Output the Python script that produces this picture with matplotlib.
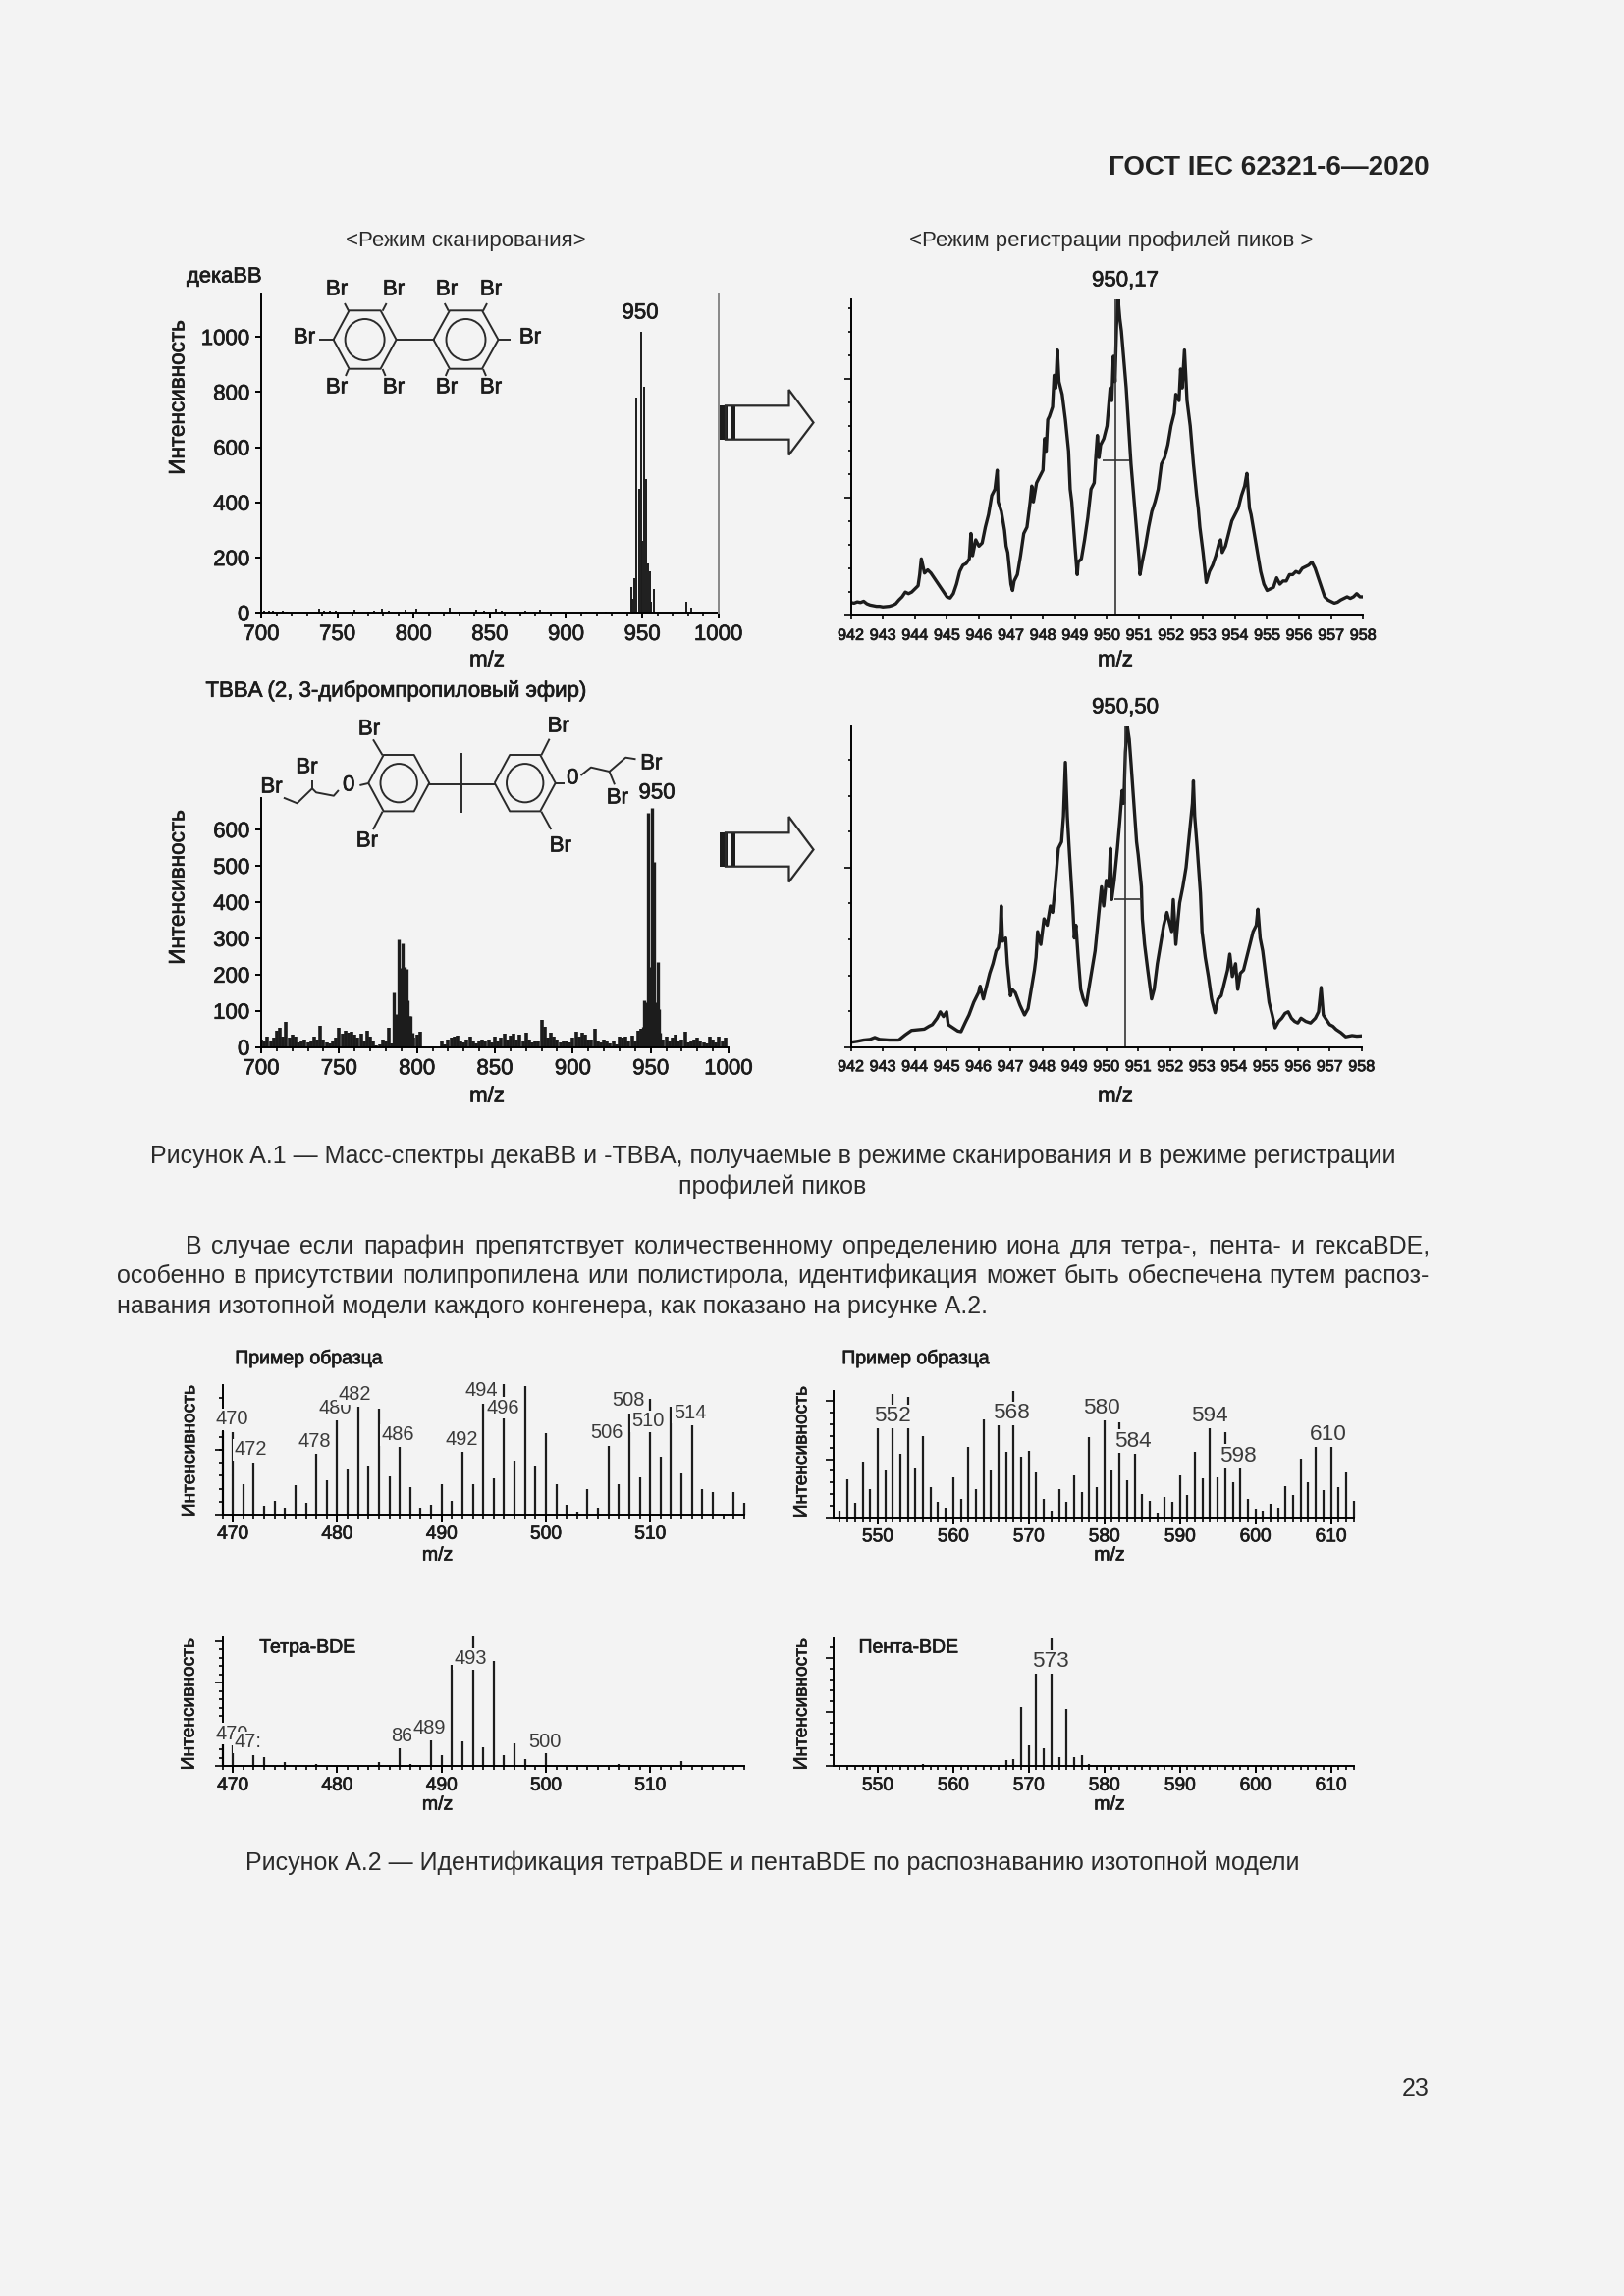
import matplotlib
matplotlib.use('Agg')
import matplotlib.pyplot as plt
import matplotlib.patheffects as pe
from matplotlib.patches import Ellipse, Polygon
from matplotlib.ticker import MultipleLocator
import numpy as np

W, H = 1654, 2339
BG = '#f3f3f3'
INK = '#1c1c1c'
plt.rcParams['font.family'] = ['Liberation Sans', 'DejaVu Sans']

# scan mode, decaBB
deca_mz = [702, 705, 708, 714, 717, 738, 741, 745, 749, 761, 770, 774, 779, 784, 795, 802, 812,
           824, 830, 841, 846, 854, 858, 868, 873, 879, 883, 888, 913, 926, 942.6, 943.6, 945,
           946.3, 948, 949, 950, 951.4, 952.5, 953.5, 955, 956, 957.5, 979, 982, 990]
deca_int = [8, 9, 7, 8, 6, 14, 8, 9, 7, 13, 6, 8, 15, 7, 13, 17, 6,
            18, 5, 12, 8, 15, 9, 5, 8, 6, 13, 6, 6, 4, 95, 50, 125,
            780, 450, 1020, 260, 820, 485, 180, 150, 40, 85, 40, 20, 5]

# scan mode, TBBA ether (noise read every 2 m/z, peaks added below)
tbba_noise = [22, 15, 30, 18, 25, 45, 52, 30, 70, 25, 35, 28, 12, 18, 22, 12, 18, 30, 22, 60,
              20, 12, 10, 15, 25, 52, 38, 45, 40, 42, 35, 25, 38, 15, 45, 30, 18, 5, 8, 20,
              15, 52, 10, 12, 30, 25, 12, 15, 15, 25, 35, 42, 0, 0, 0, 0, 0, 0, 15, 8,
              22, 25, 30, 32, 18, 12, 20, 28, 15, 10, 18, 22, 18, 20, 12, 28, 15, 25, 38, 20,
              32, 38, 22, 35, 15, 40, 22, 12, 15, 18, 75, 55, 25, 40, 30, 22, 12, 15, 18, 12,
              25, 42, 30, 40, 35, 22, 20, 50, 15, 12, 22, 15, 10, 18, 8, 28, 25, 30, 18, 32,
              15, 45, 50, 0, 0, 0, 0, 0, 30, 22, 30, 18, 25, 35, 15, 22, 42, 12, 15, 22,
              25, 18, 12, 10, 28, 22, 12, 28, 18, 25]
tbba_noise_mz = list(range(700, 1000, 2))
tbba_peak_mz = [785, 786, 787, 788, 789, 790, 791, 792, 793, 794, 795, 796, 797,
                944, 945, 946, 947, 948.5, 949.5, 950.9, 952, 953, 954.5, 955.5, 956]
tbba_peak_int = [150, 85, 90, 297, 215, 218, 285, 220, 215, 130, 85, 85, 40,
                 50, 55, 130, 125, 645, 220, 660, 510, 125, 235, 105, 40]

# peak profile, decaBB
prof1_mz = [942.0, 942.1, 942.2, 942.3, 942.4, 942.5, 942.6, 942.7, 942.8, 942.9,
            943.0, 943.1, 943.2, 943.3, 943.4, 943.5, 943.6, 943.7, 943.8, 943.9,
            944.0, 944.1, 944.15, 944.2, 944.3, 944.4, 944.5, 944.6, 944.7, 944.8, 944.9,
            945.0, 945.1, 945.2, 945.3, 945.4, 945.5, 945.6, 945.7, 945.75, 945.8, 945.9,
            946.0, 946.1, 946.2, 946.3, 946.4, 946.5, 946.57, 946.6, 946.7, 946.8, 946.85, 946.9,
            947.0, 947.05, 947.1, 947.2, 947.3, 947.4, 947.5, 947.6, 947.65, 947.7, 947.8, 947.9,
            948.0, 948.05, 948.1, 948.15, 948.2, 948.3, 948.35, 948.4, 948.45, 948.5, 948.6, 948.7, 948.8, 948.85, 948.9,
            949.0, 949.07, 949.1, 949.2, 949.3, 949.4, 949.5, 949.6, 949.65, 949.7, 949.75, 949.8, 949.9,
            950.0, 950.1, 950.15, 950.2, 950.25, 950.3, 950.35, 950.4, 950.45, 950.5, 950.55, 950.6, 950.7, 950.75, 950.8, 950.9,
            951.0, 951.03, 951.1, 951.2, 951.3, 951.4, 951.5, 951.6, 951.65, 951.7, 951.8, 951.9,
            952.0, 952.1, 952.15, 952.25, 952.3, 952.35, 952.42, 952.5, 952.6, 952.7, 952.8, 952.85, 952.9,
            953.0, 953.1, 953.2, 953.3, 953.4, 953.5, 953.55, 953.6, 953.7, 953.8, 953.9,
            954.0, 954.1, 954.2, 954.3, 954.37, 954.45, 954.5, 954.6, 954.7, 954.8, 954.9,
            955.0, 955.1, 955.2, 955.3, 955.4, 955.5, 955.6, 955.7, 955.8, 955.9,
            956.0, 956.1, 956.2, 956.3, 956.4, 956.5, 956.6, 956.7, 956.8, 956.9,
            957.0, 957.1, 957.2, 957.3, 957.4, 957.5, 957.6, 957.7, 957.8, 957.9, 958.0]
prof1_int = [4.2, 4.0, 4.4, 4.2, 4.6, 3.8, 3.4, 3.2, 3.0, 3.0,
             2.8, 2.9, 3.0, 3.3, 3.8, 5.0, 6.0, 7.5, 7.0, 7.5,
             8.5, 9.5, 13, 18, 13.5, 14.5, 13.5, 12, 10.5, 9, 7.5,
             6, 5.6, 7, 10, 14, 16, 16.5, 18, 26, 19, 24,
             22, 23, 28, 32, 38, 40, 46, 36, 33, 27, 22, 20,
             10, 8, 11, 13, 19, 26, 28, 36, 41, 36, 42, 44,
             46, 56, 52, 62, 63, 66, 76, 72, 84, 74, 70, 62, 52, 40, 36,
             22, 13, 17, 18, 24, 31, 40, 42, 50, 57, 50, 54, 56,
             60, 72, 68, 82, 74, 92, 100, 94, 90, 84, 78, 72, 56, 48, 42, 30,
             18, 13, 17, 22, 28, 33, 36, 40, 44, 48, 50, 54,
             60, 64, 70, 68, 78, 72, 84, 68, 60, 48, 38, 34, 28,
             20, 10.5, 14, 16, 19, 23, 24, 20, 22, 26, 30,
             32, 34, 38, 41, 45, 34, 32, 26, 20, 14, 10,
             8, 8.5, 9, 12, 10, 11, 11, 13, 13, 14,
             13.5, 15, 15.5, 16, 17, 15, 12, 9, 6, 5,
             4.5, 4, 4.3, 5, 5.5, 6, 5.5, 6, 7, 6, 6]

# peak profile, TBBA ether
prof2_mz = [942.0, 942.2, 942.4, 942.6, 942.75, 942.9, 943.2, 943.5, 943.7, 943.9,
            944.1, 944.3, 944.45, 944.55, 944.7, 944.8, 944.9, 945.0, 945.05, 945.2, 945.35, 945.45, 945.6, 945.7, 945.85,
            946.0, 946.05, 946.15, 946.25, 946.35, 946.45, 946.55, 946.62, 946.68, 946.71, 946.75, 946.85, 946.9,
            947.0, 947.05, 947.15, 947.3, 947.44, 947.55, 947.65, 947.75, 947.8, 947.85, 947.95,
            948.0, 948.05, 948.15, 948.25, 948.32, 948.4, 948.45, 948.5, 948.6, 948.66, 948.72, 948.78, 948.85, 948.95,
            949.0, 949.05, 949.12, 949.2, 949.28, 949.37, 949.45, 949.55, 949.65, 949.75, 949.85, 949.92,
            950.0, 950.08, 950.13, 950.17, 950.25, 950.35, 950.42, 950.5, 950.55, 950.6, 950.66, 950.72, 950.78, 950.85, 950.95,
            951.0, 951.1, 951.13, 951.2, 951.3, 951.42, 951.5, 951.6, 951.7, 951.8, 951.9,
            952.0, 952.05, 952.1, 952.18, 952.25, 952.3, 952.4, 952.5, 952.6, 952.7, 952.73, 952.77, 952.85, 952.95,
            953.0, 953.1, 953.2, 953.3, 953.41, 953.5, 953.6, 953.7, 953.8, 953.87, 953.95,
            954.05, 954.12, 954.2, 954.3, 954.4, 954.5, 954.6, 954.7, 954.75, 954.82, 954.9,
            955.0, 955.1, 955.2, 955.29, 955.4, 955.5, 955.6, 955.7, 955.8, 955.9,
            956.0, 956.1, 956.25, 956.4, 956.55, 956.65, 956.73, 956.8, 956.9,
            957.0, 957.1, 957.2, 957.35, 957.5, 957.7, 957.85, 958.0]
prof2_int = [1.5, 1.8, 2.2, 2.4, 3.0, 2.4, 2.2, 2.2, 3.8, 5.2,
             5.4, 5.6, 6.5, 7, 9, 11, 9.5, 11, 7, 6, 5, 4.8, 8, 10, 14,
             17, 19, 15, 19, 23, 26, 30, 31, 36, 44, 33, 34, 26,
             16, 18, 17, 13, 10, 12, 18, 24, 28, 36, 32,
             36, 40, 38, 44, 42, 50, 56, 62, 64, 72, 88.8, 72, 60, 44,
             34, 38, 28, 18, 15, 13, 18, 24, 30, 40, 50, 44,
             52, 50, 62, 46, 52, 62, 70, 80, 76, 92, 100, 96, 88, 78, 64,
             60, 50, 40, 32, 24, 15, 18, 26, 32, 38, 42,
             38, 36, 46, 32, 40, 45, 50, 56, 66, 76, 83, 72, 62, 48,
             36, 28, 22, 15, 10.7, 15, 16, 20, 24, 29, 22,
             26, 18, 23, 24, 28, 32, 36, 38, 43, 34, 30,
             22, 14, 10, 6, 8, 9, 10.5, 11, 9, 8,
             7.5, 9, 8, 7.5, 9, 11, 18.6, 10, 8.5,
             7, 6.5, 5.5, 4.5, 3.2, 3.6, 3.4, 3.5]
prof1_marker = [950.26, 949.87, 950.7, 49]
prof2_marker = [950.6, 950.25, 951.13, 46]

# sample spectra and extracted isotope patterns
sample1_mz = list(range(469, 520))
sample1_int = [65, 64, 24, 40.5, 7, 10.6, 5.6, 23, 9.4, 47, 27, 73, 35, 84, 38.5, 82.5, 30,
               53, 21.5, 5.6, 8, 24, 10.6, 48.6, 24, 86, 28, 101, 42, 99.5, 38.5, 63, 24,
               8, 2.5, 20, 5.6, 53.7, 24, 78.5, 29, 90, 45, 83.5, 32, 69, 20, 17.5, 1.3, 17.5, 9.6]
sample1_labels = ['470', '472', '478', '480', '482', '486', '492', '494', '496', '506', '508', '510', '514']
sample1_label_x = [469.9, 471.7, 477.8, 479.8, 481.7, 485.8, 491.9, 493.8, 495.9, 505.8, 507.9, 509.8, 513.8]
sample1_label_y = [74, 50.6, 57, 83, 93.6, 62, 58, 96, 83, 64, 88.6, 72.6, 79]

sample2_mz = list(range(545, 614))
sample2_int = [5.4, 30.4, 11.9, 43.8, 22.7, 71, 37.4, 97.4, 50, 95.4, 39.7, 64.4, 24, 12, 8, 32, 15,
               55.7, 22.7, 77.6, 37.4, 73.7, 51.5, 100, 47.7, 52.8, 35.8, 15, 5.4, 22.7, 12, 33, 20,
               63.4, 24, 76.3, 37.4, 75, 29.4, 50, 18.8, 13, 4, 16, 12, 33, 17.5, 51.5, 30.7,
               70, 32, 67.5, 28, 38.7, 15, 6.7, 5.4, 10.6, 8, 25, 17.5, 46.4, 28, 55.4, 21.4,
               55.4, 24, 35.8, 13]
sample2_labels = ['552', '568', '580', '584', '594', '598', '610']
sample2_label_x = [551.9, 567.7, 579.7, 583.8, 593.9, 597.7, 609.7]
sample2_label_y = [79.9, 82, 86.6, 60, 79.9, 48.5, 65]

tetra_mz = [469, 470, 472, 473, 475, 478, 484, 486, 487, 489, 490, 491, 492, 493, 494, 495,
            496, 497, 498, 500, 507, 513]
tetra_int = [17.3, 16.5, 8.4, 7, 3.3, 2, 3.3, 14, 2, 20.4, 8.4, 79, 19, 100.7, 15, 81.7,
             8.4, 17.8, 5.6, 10, 2, 4.3]
tetra_labels = ['86', '470', '47:', '489', '493', '500']
tetra_label_x = [486.2, 469.9, 471.45, 488.8, 492.8, 499.9]
tetra_label_y = [23.7, 25.4, 18.6, 30, 83.5, 19.3]

penta_mz = [556, 567, 568, 569, 570, 571, 572, 573, 574, 575, 576, 577, 578]
penta_int = [2, 4.6, 5.6, 46, 16.7, 73.8, 13.8, 100, 7, 45, 7, 8.5, 2]
penta_labels = ['573']
penta_label_x = [572.9]
penta_label_y = [82]

fig = plt.figure(figsize=(W / 200, H / 200), dpi=200, facecolor=BG)


def axes_px(x0, x1, y_bottom, y_top):
    ax = fig.add_axes([x0 / W, 1 - y_bottom / H, (x1 - x0) / W, (y_bottom - y_top) / H])
    ax.patch.set_alpha(0)
    for s in ['top', 'right']:
        ax.spines[s].set_visible(False)
    ax.spines['left'].set_linewidth(0.7)
    ax.spines['bottom'].set_linewidth(0.7)
    return ax


def heavy(size=8, w=0.25):
    return dict(fontsize=size, color=INK, path_effects=[pe.withStroke(linewidth=w, foreground=INK)])


# overlay for page text and the drawn structures, in pixels
page = fig.add_axes([0, 0, 1, 1], zorder=5)
page.set_xlim(0, W)
page.set_ylim(H, 0)
page.axis('off')


def t(x, y, s, ha='center', rot=0, **kw):
    return page.text(x, y + 2, s, ha=ha, va='center', rotation=rot, **kw)


def seg(pts, lw=0.7, color='#2a2a2a'):
    xs, ys = zip(*pts)
    page.plot(xs, ys, color=color, lw=lw, solid_capstyle='butt')


def ring(cx, cy, rw, rh, rin):
    hx = [(cx - rw, cy), (cx - rw / 2, cy - rh), (cx + rw / 2, cy - rh), (cx + rw, cy),
          (cx + rw / 2, cy + rh), (cx - rw / 2, cy + rh), (cx - rw, cy)]
    seg(hx)
    page.add_patch(Ellipse((cx, cy), 2 * rin, 2 * rin * 1.05, fill=False, ec='#2a2a2a', lw=0.7))


def block_arrow(x0, ymid):
    # solid bar, hollow striped bar, then the outline arrow
    page.fill_between([x0, x0 + 4.5], ymid - 17.5, ymid + 17.5, color=INK, lw=0)
    page.fill_between([x0 + 6, x0 + 8], ymid - 17.5, ymid + 17.5, color=INK, lw=0)
    page.fill_between([x0 + 12, x0 + 15.5], ymid - 17.5, ymid + 17.5, color=INK, lw=0)
    page.add_patch(Polygon([(x0 + 6, ymid - 17.2), (x0 + 70.5, ymid - 17.2), (x0 + 70.5, ymid - 33.5),
                            (x0 + 95.5, ymid), (x0 + 70.5, ymid + 33), (x0 + 70.5, ymid + 17.2),
                            (x0 + 6, ymid + 17.2)], closed=True, fill=False, ec='#2a2a2a', lw=0.8))


# A: scan, decaBB
ax = axes_px(266, 731.7, 624.3, 299.3)
ax.set_xlim(700, 1000)
ax.set_ylim(0, 1156)
ax.vlines(deca_mz, 0, deca_int, color=INK, lw=0.7)
ax.set_xticks(range(700, 1001, 50))
ax.xaxis.set_minor_locator(MultipleLocator(10))
ax.set_yticks(range(0, 1001, 200))
ax.tick_params(axis='both', which='major', length=2.2, width=0.7, pad=2)
ax.tick_params(axis='x', which='minor', length=1.5, width=0.6)
for lab in ax.get_xticklabels() + ax.get_yticklabels():
    lab.set(**heavy())
page.plot([731.7, 731.7], [299.3, 624.3], color='#888888', lw=0.7)

# C: scan, TBBA
ax = axes_px(266, 742, 1066.7, 813.3)
ax.set_xlim(700, 1000)
ax.set_ylim(0, 686)
ax.vlines(tbba_noise_mz, 0, tbba_noise, color=INK, lw=1.3)
ax.vlines(tbba_peak_mz, 0, tbba_peak_int, color=INK, lw=1.2)
ax.set_xticks(range(700, 1001, 50))
ax.xaxis.set_minor_locator(MultipleLocator(10))
ax.set_yticks(range(0, 601, 100))
ax.tick_params(axis='both', which='major', length=2.2, width=0.7, pad=2)
ax.tick_params(axis='x', which='minor', length=1.5, width=0.6)
for lab in ax.get_xticklabels() + ax.get_yticklabels():
    lab.set(**heavy())


def profile(box, mz, inten, marker, ticks, minor):
    ax = axes_px(*box)
    ax.set_xlim(942, 958)
    ax.set_ylim(0, 100)
    ax.plot(mz, inten, color=INK, lw=1.2)
    ax.vlines(marker[0], 0, 100, color='#333333', lw=0.6)
    ax.hlines(marker[3], marker[1], marker[2], color='#333333', lw=0.6)
    ax.set_xticks(range(942, 959))
    ax.set_yticks(ticks)
    ax.set_yticklabels([])
    ax.yaxis.set_minor_locator(MultipleLocator(minor))
    ax.tick_params(axis='x', length=1.5, width=0.6, pad=3)
    ax.tick_params(axis='y', which='major', length=2.5, width=0.6)
    ax.tick_params(axis='y', which='minor', length=1.2, width=0.6)
    for lab in ax.get_xticklabels():
        lab.set(**heavy(5.8, 0.3))


profile((866.6, 1388.3, 627.3, 305), prof1_mz, prof1_int, prof1_marker, [0, 37.4, 74.8], 7.48)
profile((866.6, 1386.8, 1066.7, 740), prof2_mz, prof2_int, prof2_marker, [0, 56], 11.2)


def sticks(box, xlim, mz, inten, labels, lx, ly, lsize, ymax, major, minor):
    ax = axes_px(*box)
    ax.set_xlim(*xlim)
    ax.set_ylim(0, ymax)
    ax.vlines(mz, 0, inten, color=INK, lw=0.8, clip_on=False, zorder=2)
    for s, x, y in zip(labels, lx, ly):
        ax.text(x, y, s, ha='center', va='center', fontsize=lsize, color='#3a3a3a', zorder=3,
                bbox=dict(facecolor=BG, edgecolor='none', pad=0.6))
    first = int(np.ceil(xlim[0] / 10.0) * 10)
    ax.set_xticks(range(first, int(xlim[1]) + 1, 10))
    ax.xaxis.set_minor_locator(MultipleLocator(1))
    ax.yaxis.set_major_locator(MultipleLocator(major))
    ax.yaxis.set_minor_locator(MultipleLocator(minor))
    ax.set_yticklabels([])
    ax.tick_params(axis='x', which='major', length=2.6, width=0.7, pad=1.5)
    ax.tick_params(axis='x', which='minor', length=1.6, width=0.6)
    ax.tick_params(axis='y', which='major', length=2.9, width=0.6)
    ax.tick_params(axis='y', which='minor', length=1.5, width=0.6)
    for lab in ax.get_xticklabels():
        lab.set(**heavy(6.9, 0.25))
    return ax


sticks((226.5, 758.4, 1543.3, 1410.7), (469, 519.05), sample1_mz, sample1_int, sample1_labels,
       sample1_label_x, sample1_label_y, 7.2, 100.7, 50.6, 10.1)
sticks((848.5, 1379.2, 1546, 1416.7), (544.1, 613.07), sample2_mz, sample2_int, sample2_labels,
       sample2_label_x, sample2_label_y, 8.1, 100, 46, 9.2)
sticks((226.5, 758.4, 1799.3, 1668.3), (469, 519.05), tetra_mz, tetra_int, tetra_labels,
       tetra_label_x, tetra_label_y, 7.2, 100, 32.5, 6.5)
sticks((848.5, 1379.2, 1799.3, 1669.3), (544.1, 613.07), penta_mz, penta_int, penta_labels,
       penta_label_x, penta_label_y, 8.1, 100, 42.5, 8.5)

# decaBB structure
ring(371.6, 346, 32, 29.7, 20)
ring(474.5, 346, 33, 29.7, 20)
seg([(403.7, 346), (441.5, 346)])
seg([(325, 346), (339.5, 346)])
seg([(507.4, 346), (520, 346)])
for bx, sgn in [(355, -1), (389.6, 1), (456.8, -1), (492, 1)]:
    seg([(bx, 316.7), (bx + sgn * 4, 309)])
    seg([(bx, 376), (bx + sgn * 3, 383)])
for bx in [343, 401, 455, 500]:
    t(bx, 293, 'Br', **heavy())
    t(bx, 393, 'Br', **heavy())
t(310, 342, 'Br', **heavy())
t(540, 342, 'Br', **heavy())

# TBBA ether structure
ring(406.2, 797.7, 31, 28.7, 18.7)
ring(534.7, 797.7, 31, 28.7, 18.7)
seg([(437.3, 799), (503.6, 799)])
seg([(470, 767), (470, 827.7)])
seg([(389.6, 769.3), (380, 753.3)])
seg([(551.3, 769.3), (559.6, 752.7)])
seg([(389.6, 826.7), (380, 845)])
seg([(551.3, 826.7), (561.3, 845)])
seg([(375.1, 798), (366.4, 800)])
seg([(565.8, 798), (575, 798)])
seg([(344.9, 805), (339.9, 810.7), (322, 807.3), (318, 803.3), (302.6, 818.3), (288.9, 812.7)])
seg([(318, 795), (318, 803.3)])
seg([(591.5, 790), (601.9, 781.7), (620.6, 786), (637.2, 771.7), (647.5, 773.3)])
seg([(620.6, 786), (626, 799.3)])
t(376, 741, 'Br', **heavy())
t(568.7, 738, 'Br', **heavy())
t(373.9, 855, 'Br', **heavy())
t(570.8, 860, 'Br', **heavy())
t(276.5, 800, 'Br', **heavy())
t(312.5, 780, 'Br', **heavy())
t(663.3, 776, 'Br', **heavy())
t(628.9, 811, 'Br', **heavy())
t(355.2, 798, '0', **heavy())
t(583.3, 791, '0', **heavy())

block_arrow(733, 430.5)
block_arrow(733, 865.5)

# chart texts
t(474, 243, '<Режим сканирования>', fontsize=8, color='#2a2a2a')
t(1132, 243, '<Режим регистрации профилей пиков >', fontsize=8, color='#2a2a2a')
t(228, 280, 'декаBB', **heavy(7.9))
t(403, 702, 'TBBA (2, 3-дибромпропиловый эфир)', **heavy())
t(652, 317, '950', **heavy())
t(669, 806, '950', **heavy())
t(1146, 284, '950,17', **heavy())
t(1146, 719, '950,50', **heavy())
t(182, 403, 'Интенсивность', rot=90, **heavy(8.1))
t(182, 902, 'Интенсивность', rot=90, **heavy(8.1))
for x, y in [(496, 671), (496, 1115), (1136, 671), (1136, 1115), (445.6, 1583), (1130, 1583), (445.6, 1837), (1130, 1837)]:
    t(x, y, 'm/z', **heavy(8 if y < 1200 else 7))
t(315, 1382, 'Пример образца', **heavy(7))
t(933, 1382, 'Пример образца', **heavy(7))
t(313.5, 1677, 'Тетра-BDE', **heavy(7))
t(925.6, 1677, 'Пента-BDE', **heavy(7))
t(193.7, 1476, 'Интенсивность', rot=90, **heavy(6.9))
t(816.9, 1477, 'Интенсивность', rot=90, **heavy(6.9))
t(193, 1734, 'Интенсивность', rot=90, **heavy(6.9))
t(817, 1734, 'Интенсивность', rot=90, **heavy(6.9))

# page text
t(1456, 169, 'ГОСТ IEC 62321-6—2020', ha='right', fontsize=10, fontweight='bold', color='#222222')
CAP = dict(fontsize=9, color='#2a2a2a')
t(787, 1176, 'Рисунок А.1 — Масс-спектры декаBB и -TBBA, получаемые в режиме сканирования и в режиме регистрации', **CAP)
t(787, 1207, 'профилей пиков', **CAP)
t(787, 1896, 'Рисунок А.2 — Идентификация тетраBDE и пентаBDE по распознаванию изотопной модели', **CAP)
t(1456, 2126, '23', ha='right', **CAP)


def justified(x0, x1, y, line):
    # spread words over the text column
    words = line.split(' ')
    r = fig.canvas.get_renderer()
    items = [page.text(x0, y, w, ha='left', va='center', **CAP) for w in words]
    widths = [i.get_window_extent(r).width for i in items]
    gap = (x1 - x0 - sum(widths)) / (len(words) - 1)
    x = x0
    for i, wd in zip(items, widths):
        i.set_x(x)
        x += wd + gap


justified(189, 1456, 1270, 'В случае если парафин препятствует количественному определению иона для тетра-, пента- и гексаBDE,')
justified(119, 1456, 1300, 'особенно в присутствии полипропилена или полистирола, идентификация может быть обеспечена путем распоз-')
t(119, 1329, 'навания изотопной модели каждого конгенера, как показано на рисунке А.2.', ha='left', **CAP)

fig.savefig('out.png', dpi=200, facecolor=BG)
